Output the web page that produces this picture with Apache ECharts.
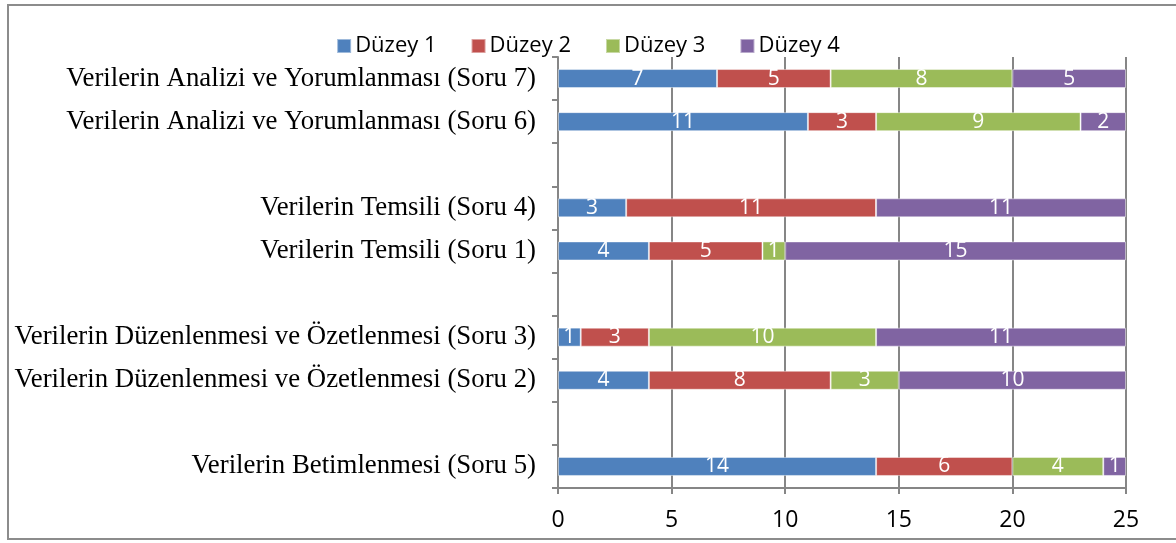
<!DOCTYPE html>
<html>
<head>
<meta charset="utf-8">
<script src="https://cdn.jsdelivr.net/npm/echarts@6/dist/echarts.min.js"></script>
<style>
  html, body { margin: 0; padding: 0; background: #fff; }
  #chart { width: 1176px; height: 543px; }
</style>
</head>
<body>
<div id="chart"></div>
<script>
// categories from bottom to top, '' = empty spacer row
const categories = [
  "Verilerin Betimlenmesi (Soru 5)",
  "",
  "Verilerin Düzenlenmesi ve Özetlenmesi (Soru 2)",
  "Verilerin Düzenlenmesi ve Özetlenmesi (Soru 3)",
  "",
  "Verilerin Temsili (Soru 1)",
  "Verilerin Temsili (Soru 4)",
  "",
  "Verilerin Analizi ve Yorumlanması (Soru 6)",
  "Verilerin Analizi ve Yorumlanması (Soru 7)",
];
const seriesNames = ["Düzey 1", "Düzey 2", "Düzey 3", "Düzey 4"];
const duzey1 = [14, null, 4, 1, null, 4, 3, null, 11, 7];
const duzey2 = [6, null, 8, 3, null, 5, 11, null, 3, 5];
const duzey3 = [4, null, 3, 10, null, 1, 0, null, 9, 8];
const duzey4 = [1, null, 10, 11, null, 15, 11, null, 2, 5];
const xTicks = [0, 5, 10, 15, 20, 25];
const colors = ["#4F81BD", "#C0504D", "#9BBB59", "#8064A2"];

const allData = [duzey1, duzey2, duzey3, duzey4];
const chart = echarts.init(document.getElementById("chart"));

const option = {
  animation: false,
  color: colors,
  graphic: [
    {
      type: "rect",
      shape: { x: 8, y: 5, width: 1180, height: 534 },
      style: { fill: "none", stroke: "#8c8c8c", lineWidth: 2 },
      z: 0,
    },
  ],
  legend: {
    top: 30,
    left: "center",
    itemWidth: 14,
    itemHeight: 14,
    itemGap: 34,
    icon: "rect",
    textStyle: { fontFamily: "Open Sans", fontSize: 22, color: "#000", padding: [0, 0, 0, -1] },
    data: seriesNames,
  },
  grid: { left: 558, right: 50, top: 57, bottom: 55 },
  xAxis: {
    type: "value",
    min: xTicks[0],
    max: xTicks[xTicks.length - 1],
    interval: 5,
    axisLine: { show: true, lineStyle: { color: "#868686", width: 2 } },
    axisTick: { show: true, length: 6, lineStyle: { color: "#868686", width: 2 } },
    splitLine: { show: true, lineStyle: { color: "#868686", width: 2 } },
    axisLabel: { fontFamily: "Open Sans", fontSize: 23, color: "#000", margin: 21 },
  },
  yAxis: {
    type: "category",
    data: categories,
    axisLine: { show: true, lineStyle: { color: "#868686", width: 2 } },
    axisTick: { show: true, length: 6, lineStyle: { color: "#868686", width: 2 } },
    axisLabel: { fontFamily: "Liberation Serif", fontSize: 26.8, color: "#000", margin: 22 },
  },
  series: seriesNames.map((name, i) => ({
    name: name,
    type: "bar",
    stack: "total",
    barWidth: 19,
    data: allData[i],
    itemStyle: { color: colors[i], borderColor: "rgba(255,255,255,0.45)", borderWidth: 1 },
    label: {
      show: true,
      position: "inside",
      color: "#fff",
      fontFamily: "Open Sans",
      fontSize: 21,
      formatter: (p) => (p.value ? p.value : ""),
    },
  })),
};

chart.setOption(option);
</script>
</body>
</html>
